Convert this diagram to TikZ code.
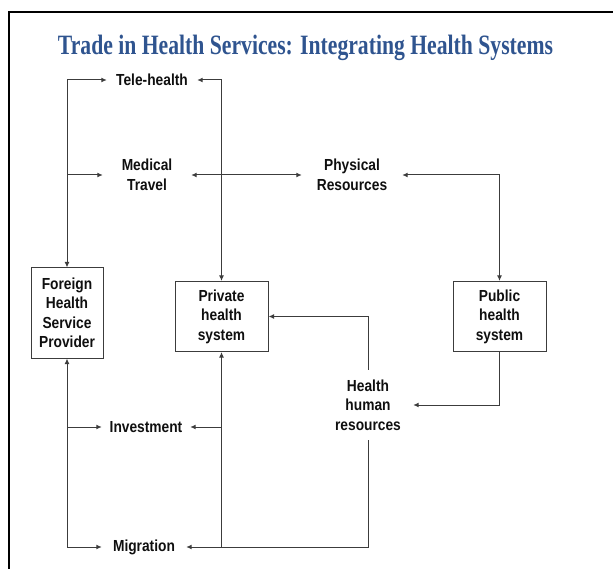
\documentclass[tikz,border=0pt]{standalone}
\usepackage{fontspec}
\usepackage{graphicx}
\usetikzlibrary{arrows.meta}
% Narrowed sans for the diagram labels, serif for the heading
\newfontfamily\lblfont{Liberation Sans}[FakeStretch=0.86]
\newfontfamily\ttlfont{Liberation Serif}
\definecolor{titleblue}{RGB}{47,84,143}
\definecolor{ink}{RGB}{15,15,15}
\definecolor{wire}{RGB}{60,60,60}

\begin{document}
\begin{tikzpicture}[x=1pt,y=-1pt,
  >={Latex[length=5.5pt,width=4.8pt]},
  lbl/.style={font={\lblfont\bfseries\fontsize{16}{19.5}\selectfont},
              text=ink, align=center, inner sep=0pt},
  boxnode/.style={lbl, draw=wire, line width=1pt},
  link/.style={draw=wire, line width=1pt}]
  \useasboundingbox (0,0) rectangle (613,569);

  % outer frame
  \draw[line width=2pt] (9,580) -- (9,12) -- (620,12);

  % heading
  \node[anchor=base, text=titleblue] (title) at (305.5,54.5)
    {\resizebox{495pt}{\height}{\ttlfont\bfseries\fontsize{28}{28}\selectfont
      Trade in Health Services: Integrating Health Systems}};

  % health systems
  \node[boxnode, minimum width=72, minimum height=90] (fhsp) at (67,313)
    {Foreign\\Health\\Service\\Provider};
  \node[boxnode, minimum width=93, minimum height=70] (priv) at (221.5,316.5)
    {Private\\health\\system};
  \node[boxnode, minimum width=93, minimum height=70] (pub) at (499.5,316.5)
    {Public\\health\\system};

  % modes of trade and resources
  \node[lbl, minimum width=90] (tele) at (152,80) {Tele-health};
  \node[lbl, minimum width=88] (med) at (147,175) {Medical\\Travel};
  \node[lbl, minimum width=100] (phys) at (352,175) {Physical\\Resources};
  \node[lbl, minimum width=90, minimum height=70] (hhr) at (368,405)
    {Health\\human\\resources};
  \node[lbl, minimum width=88] (inv) at (146,427) {Investment};
  \node[lbl, minimum width=84] (migr) at (144,547) {Migration};

  % foreign provider links
  \draw[link, <->] (tele.west) -| (fhsp.north);
  \draw[link, ->] (fhsp.north |- med.west) -- (med.west);
  \draw[link, <->] (migr.west) -| (fhsp.south);
  \draw[link, ->] (fhsp.south |- inv.west) -- (inv.west);

  % private system links
  \draw[link, <->] (tele.east) -| (priv.north);
  \draw[link, <->] (med.east) -- (phys.west);
  \draw[link, <->] (migr.east) -| (priv.south);
  \draw[link, ->] (priv.south |- inv.east) -- (inv.east);

  % public system and human resources
  \draw[link, <->] (phys.east) -| (pub.north);
  \draw[link, ->] (pub.south) |- (hhr.east);
  \draw[link, ->] (hhr.north) |- (priv.east);
  \draw[link] (hhr.south) |- (priv.south |- migr.east);
\end{tikzpicture}
\end{document}
